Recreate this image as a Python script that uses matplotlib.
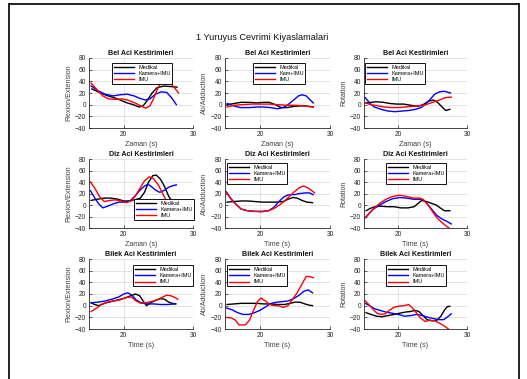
import matplotlib
matplotlib.use("Agg")
import matplotlib.pyplot as plt
from matplotlib.lines import Line2D

plt.rcParams['font.family'] = ['Liberation Sans', 'DejaVu Sans']

W, H = 527, 379

# ---- Bel (row 1) ----
bel_fe_med_t = [15.4, 16.5, 17.5, 18.6, 19.5, 20.5, 21.4, 22.2, 22.8, 23.4, 24.1, 24.8, 25.8, 26.8, 27.7]
bel_fe_med = [27, 21, 16, 12, 8, 3, 0, -4, -2, 7, 20, 29, 32, 31, 30]
bel_fe_cam_t = [15.3, 16.3, 17.3, 18.5, 19.5, 20.5, 21.5, 22.3, 23.1, 23.8, 24.6, 25.4, 26.2, 26.9, 27.6]
bel_fe_cam = [32, 24, 18, 15, 17, 18, 15, 11, 8, 10, 18, 22, 21, 12, 0]
bel_fe_imu_t = [15.3, 16.2, 17.0, 17.8, 18.8, 19.8, 20.8, 21.8, 22.6, 23.2, 23.8, 24.3, 24.8, 25.3, 26.0, 26.8, 27.4, 27.9]
bel_fe_imu = [37, 25, 15, 10, 9, 10, 7, 2, -3, -6, -2, 10, 25, 36, 39, 36, 28, 20]

bel_ab_med_t = [15.3, 16.3, 17.3, 18.5, 19.5, 20.5, 21.3, 22.2, 23.0, 23.8, 24.8, 26.0, 27.0, 27.6]
bel_ab_med = [0, 2, 4, 4, 3, 4, 4, 0, -5, -5, -3, -2, -3, -4]
bel_ab_cam_t = [15.3, 16.2, 17.2, 18.5, 19.5, 20.5, 21.5, 22.5, 23.3, 24.0, 24.8, 25.5, 26.0, 26.6, 27.1, 27.6]
bel_ab_cam = [2, -2, -5, -5, -4, -4, -5, -7, -5, 0, 8, 15, 17, 15, 9, 3]
bel_ab_imu_t = [15.3, 16.3, 17.5, 18.8, 20.0, 21.3, 22.5, 23.8, 25.0, 26.2, 27.6]
bel_ab_imu = [-4, -1, 0, 1, 1, 1, 0, -1, -1, -2, -4]

bel_rot_med_t = [15.3, 16.0, 16.8, 17.8, 18.8, 19.8, 20.8, 21.8, 22.8, 23.6, 24.4, 25.1, 25.7, 26.3, 26.9, 27.5]
bel_rot_med = [3, 4, 5, 4, 2, 1, 1, -1, -3, 0, 6, 8, 4, -3, -10, -8]
bel_rot_cam_t = [15.2, 15.8, 16.5, 17.5, 18.5, 19.5, 20.5, 21.5, 22.5, 23.3, 24.0, 24.7, 25.3, 26.0, 26.7, 27.6]
bel_rot_cam = [12, 3, -4, -8, -11, -12, -11, -10, -8, -5, 1, 10, 18, 22, 23, 20]
bel_rot_imu_t = [15.2, 16.0, 17.0, 18.0, 19.0, 20.0, 21.0, 22.0, 23.0, 24.0, 25.0, 26.0, 26.8, 27.7]
bel_rot_imu = [3, 0, -2, -4, -5, -5, -4, -3, -2, 0, 4, 8, 12, 13]

# ---- Diz (row 2) ----
diz_fe_med_t = [15.3, 16.2, 17.2, 18.2, 19.2, 20.0, 20.8, 21.6, 22.4, 23.0, 23.6, 24.2, 24.7, 25.3, 25.9, 26.5, 27.0, 27.5]
diz_fe_med = [8, 10, 12, 12, 10, 7, 7, 9, 12, 22, 40, 51, 52, 45, 32, 15, 6, 3]
diz_fe_cam_t = [15.2, 15.8, 16.4, 17.0, 17.7, 18.5, 19.3, 20.1, 20.9, 21.6, 22.3, 23.0, 23.5, 24.0, 24.6, 25.2, 25.8, 26.5, 27.2, 27.6]
diz_fe_cam = [25, 13, 2, -5, -2, 2, 5, 5, 7, 15, 25, 33, 36, 32, 26, 22, 25, 31, 34, 35]
diz_fe_imu_t = [15.2, 15.8, 16.5, 17.2, 18.0, 18.8, 19.6, 20.4, 21.2, 21.8, 22.3, 23.0, 23.7, 24.3, 25.0, 25.7, 26.3, 27.0]
diz_fe_imu = [40, 30, 15, 6, 8, 9, 7, 4, 8, 18, 28, 42, 49, 46, 35, 18, 5, -5]

diz_ab_med_t = [15.3, 16.3, 17.3, 18.3, 19.3, 20.3, 21.3, 22.3, 23.3, 24.0, 24.7, 25.3, 26.0, 26.7, 27.5]
diz_ab_med = [5, 6, 7, 7, 6, 5, 5, 5, 6, 10, 13, 12, 8, 5, 4]
diz_ab_cam_t = [15.2, 15.8, 16.5, 17.3, 18.2, 19.2, 20.2, 21.2, 22.0, 22.7, 23.4, 24.1, 24.9, 25.7, 26.5, 27.1, 27.6]
diz_ab_cam = [23, 12, 2, -7, -10, -11, -11, -10, -4, 6, 14, 18, 18, 20, 21, 21, 18]
diz_ab_imu_t = [15.2, 15.8, 16.5, 17.3, 18.2, 19.2, 20.2, 21.2, 22.0, 22.8, 23.5, 24.2, 24.9, 25.6, 26.2, 26.8, 27.4, 27.8]
diz_ab_imu = [22, 11, 2, -7, -10, -11, -12, -10, -6, 0, 7, 15, 23, 30, 33, 30, 25, 21]

diz_rot_med_t = [15.3, 15.9, 16.6, 17.4, 18.4, 19.4, 20.4, 21.4, 22.3, 22.9, 23.4, 24.1, 24.8, 25.5, 26.1, 26.7, 27.5]
diz_rot_med = [-10, -6, -3, -2, -3, -3, -5, -5, -3, 3, 8, 6, 3, 0, -5, -10, -10]
diz_rot_cam_t = [15.2, 15.8, 16.5, 17.3, 18.2, 19.2, 20.2, 21.2, 22.2, 23.0, 23.6, 24.2, 24.9, 25.6, 26.3, 27.0, 27.7]
diz_rot_cam = [-22, -14, -6, 0, 6, 11, 13, 12, 10, 10, 9, 2, -8, -18, -24, -28, -33]
diz_rot_imu_t = [15.2, 15.8, 16.5, 17.3, 18.2, 19.2, 20.2, 21.2, 22.2, 23.0, 23.6, 24.2, 24.9, 25.6, 26.3, 27.0, 27.4]
diz_rot_imu = [-22, -14, -5, 3, 10, 15, 17, 15, 12, 12, 10, 2, -10, -22, -30, -37, -40]

# ---- Bilek (row 3) ----
bil_fe_med_t = [15.3, 15.8, 16.4, 17.2, 18.2, 19.2, 20.2, 21.0, 21.7, 22.3, 22.8, 23.3, 23.9, 24.6, 25.3, 25.9, 26.5, 27.0, 27.5]
bil_fe_med = [5, 2, 0, 4, 7, 10, 13, 17, 20, 17, 8, 0, 5, 9, 12, 11, 6, 4, 3]
bil_fe_cam_t = [15.3, 16.3, 17.3, 18.3, 19.3, 20.0, 20.6, 21.2, 21.8, 22.5, 23.3, 24.3, 25.3, 26.3, 27.5]
bil_fe_cam = [5, 6, 8, 11, 15, 20, 22, 18, 10, 5, 3, 3, 2, 2, 3]
bil_fe_imu_t = [15.3, 16.0, 16.8, 17.6, 18.5, 19.5, 20.3, 21.1, 21.8, 22.5, 23.2, 24.0, 24.8, 25.5, 26.2, 26.8, 27.4, 27.8]
bil_fe_imu = [-10, -5, 2, 6, 8, 10, 14, 15, 8, 4, 5, 7, 10, 14, 18, 17, 14, 11]

bil_ab_med_t = [15.3, 16.3, 17.3, 18.5, 19.5, 20.5, 21.5, 22.5, 23.5, 24.3, 25.0, 25.7, 26.4, 27.0, 27.5]
bil_ab_med = [2, 3, 4, 4, 4, 3, 3, 2, 2, 4, 6, 6, 3, 1, 0]
bil_ab_cam_t = [15.2, 16.0, 16.8, 17.6, 18.4, 19.2, 20.0, 20.8, 21.6, 22.4, 23.2, 24.0, 24.8, 25.6, 26.3, 26.9, 27.5]
bil_ab_cam = [-4, -7, -12, -15, -15, -12, -8, -2, 4, 6, 7, 8, 12, 18, 25, 27, 22]
bil_ab_imu_t = [15.2, 15.9, 16.5, 17.0, 17.9, 18.5, 19.0, 19.6, 20.1, 20.8, 21.4, 22.0, 22.6, 23.3, 24.0, 24.6, 25.3, 25.9, 26.6, 27.0, 27.6]
bil_ab_imu = [-20, -21, -25, -33, -33, -25, -10, 6, 13, 8, 2, 0, 0, -3, 0, 10, 22, 35, 50, 50, 48]

bil_rot_med_t = [15.3, 16.0, 16.8, 17.6, 18.5, 19.4, 20.2, 21.0, 21.8, 22.4, 23.0, 23.6, 24.2, 24.9, 25.6, 26.2, 26.7, 27.1, 27.5]
bil_rot_med = [-12, -15, -18, -19, -17, -15, -13, -11, -10, -8, -10, -17, -24, -26, -25, -18, -8, -2, -1]
bil_rot_cam_t = [15.2, 15.8, 16.5, 17.3, 18.2, 19.1, 20.0, 20.9, 21.8, 22.7, 23.5, 24.3, 25.1, 25.9, 26.6, 27.2, 27.7]
bil_rot_cam = [4, 0, -5, -8, -11, -13, -15, -18, -17, -15, -17, -20, -22, -24, -24, -19, -14]
bil_rot_imu_t = [15.2, 15.7, 16.3, 16.9, 17.5, 18.1, 18.7, 19.3, 20.0, 20.8, 21.5, 22.0, 22.6, 23.2, 23.9, 24.6, 25.3, 26.0, 26.7, 27.3]
bil_rot_imu = [8, 2, -6, -13, -15, -14, -8, -3, -1, 0, 2, -3, -12, -21, -27, -25, -26, -30, -35, -40]

titles = ['Bel Aci Kestirimleri', 'Diz Aci Kestirimleri', 'Bilek Aci Kestirimleri']
ylabels = ['Flexion/Extension', 'Ab/Adduction', 'Rotation']
xlabels = [['Zaman (s)', 'Zaman (s)', 'Zaman (s)'],
           ['Zaman (s)', 'Time (s)', 'Time (s)'],
           ['Time (s)', 'Time (s)', 'Time (s)']]
series_names = ['Medikal', 'Kamera+IMU', 'IMU']
yticks = [-40, -20, 0, 20, 40, 60, 80]
xticks = [20, 30]

panels = [
    [(bel_fe_med_t, bel_fe_med, bel_fe_cam_t, bel_fe_cam, bel_fe_imu_t, bel_fe_imu),
     (bel_ab_med_t, bel_ab_med, bel_ab_cam_t, bel_ab_cam, bel_ab_imu_t, bel_ab_imu),
     (bel_rot_med_t, bel_rot_med, bel_rot_cam_t, bel_rot_cam, bel_rot_imu_t, bel_rot_imu)],
    [(diz_fe_med_t, diz_fe_med, diz_fe_cam_t, diz_fe_cam, diz_fe_imu_t, diz_fe_imu),
     (diz_ab_med_t, diz_ab_med, diz_ab_cam_t, diz_ab_cam, diz_ab_imu_t, diz_ab_imu),
     (diz_rot_med_t, diz_rot_med, diz_rot_cam_t, diz_rot_cam, diz_rot_imu_t, diz_rot_imu)],
    [(bil_fe_med_t, bil_fe_med, bil_fe_cam_t, bil_fe_cam, bil_fe_imu_t, bil_fe_imu),
     (bil_ab_med_t, bil_ab_med, bil_ab_cam_t, bil_ab_cam, bil_ab_imu_t, bil_ab_imu),
     (bil_rot_med_t, bil_rot_med, bil_rot_cam_t, bil_rot_cam, bil_rot_imu_t, bil_rot_imu)],
]

# pixel boxes of the axes and legends
cols = [(89, 193), (225, 330), (364, 467)]
rows = [(58, 128), (159, 228), (259, 329)]
leg_pos = [[(112, 63), (253, 63), (365, 63)],
           [(134, 199), (227, 163), (386, 163)],
           [(133, 265), (227, 265), (386, 265)]]

fig = plt.figure(figsize=(W / 100, H / 100), dpi=100)
fig.patch.set_facecolor('white')

# outer frame
fig.add_artist(Line2D([9 / W, 9 / W], [0, 1 - 4 / H], color='#222222', lw=1.4))
fig.add_artist(Line2D([9 / W, 519 / W], [1 - 4 / H, 1 - 4 / H], color='#222222', lw=1.4))
fig.add_artist(Line2D([519 / W, 519 / W], [0, 1 - 4 / H], color='#222222', lw=1.4))

fig.text(262 / W, 1 - 38 / H, '1 Yuruyus Cevrimi Kiyaslamalari', ha='center', va='center',
         fontsize=6.6, color='#111111')

for r in range(3):
    for c in range(3):
        x0, x1 = cols[c]
        y0, y1 = rows[r]
        ax = fig.add_axes([x0 / W, 1 - y1 / H, (x1 - x0) / W, (y1 - y0) / H])
        mt, mv, ct, cv, it, iv = panels[r][c]
        ax.plot(mt, mv, color='k', lw=1.0, label=series_names[0])
        ax.plot(ct, cv, color='#0000ff', lw=1.0,
                label='Kam+IMU' if (r, c) == (0, 1) else series_names[1])
        ax.plot(it, iv, color='#ff0000', lw=1.0, label=series_names[2])
        ax.set_xlim(15, 30)
        ax.set_ylim(-40, 80)
        ax.set_xticks(xticks)
        ax.set_yticks(yticks)
        ax.grid(True, color='#dedede', lw=0.6)
        ax.set_axisbelow(True)
        for s in ['top', 'right']:
            ax.spines[s].set_visible(False)
        for s in ['left', 'bottom']:
            ax.spines[s].set_color('#262626')
            ax.spines[s].set_linewidth(0.6)
        ax.tick_params(direction='in', length=2, width=0.5, labelsize=4.8,
                       colors='#262626', pad=2)
        ax.set_title(titles[r], fontsize=5.1, fontweight='bold', pad=2.5, color='#111111')
        ax.set_ylabel(ylabels[c], fontsize=5.1, color='#404040', labelpad=2)
        ax.set_xlabel(xlabels[r][c], fontsize=5.1, color='#404040', labelpad=2)
        lx, ly = leg_pos[r][c]
        leg = ax.legend(loc='upper left', bbox_to_anchor=(lx / W, 1 - ly / H),
                        bbox_transform=fig.transFigure, borderaxespad=0,
                        fontsize=4, frameon=True, fancybox=False, framealpha=1,
                        edgecolor='#111111', handlelength=3.6, handletextpad=0.8,
                        borderpad=0.3, labelspacing=0.25)
        leg.get_frame().set_linewidth(0.7)
        leg.set_zorder(5)

fig.savefig('out.png', dpi=100, facecolor='white')
